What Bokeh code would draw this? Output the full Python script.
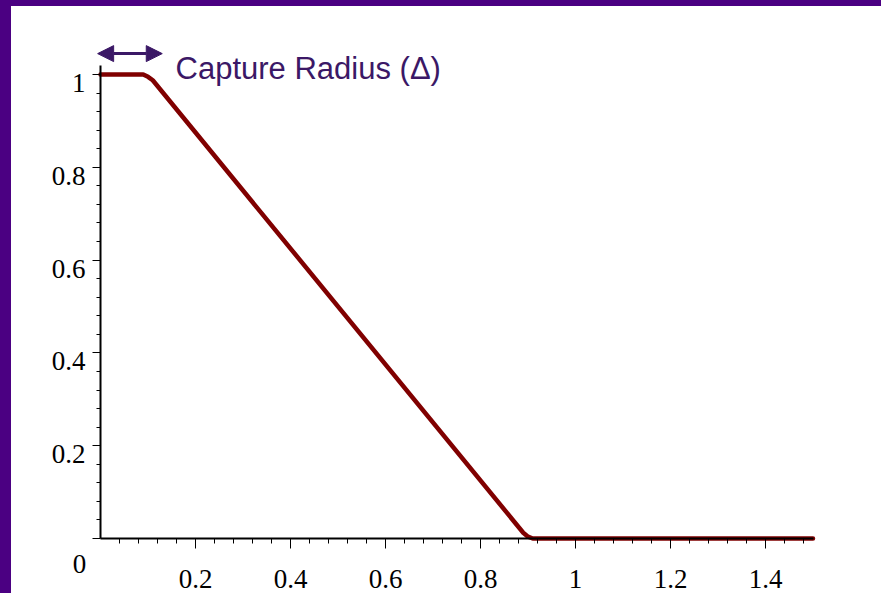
import numpy as np
from bokeh.plotting import figure
from bokeh.models import (LinearAxis, FixedTicker, Arrow, NormalHead,
                          CustomJSTickFormatter, GlobalInlineStyleSheet, Label)
from bokeh.core.properties import value
from bokeh.embed import file_html
from bokeh.resources import INLINE

# ---- data ----
curve_x = [0.0, 0.09, 0.10, 0.11, 0.89, 0.90, 0.91, 1.5]
curve_y = [1.0, 1.0, 0.995, 0.9875, 0.0125, 0.004, 0.0, 0.0]

x_tick_values = [0.2, 0.4, 0.6, 0.8, 1.0, 1.2, 1.4]
x_tick_labels = ["0.2", "0.4", "0.6", "0.8", "1", "1.2", "1.4"]
y_tick_values = [0.2, 0.4, 0.6, 0.8, 1.0]
y_tick_labels = ["0.2", "0.4", "0.6", "0.8", "1"]
origin_label = ["0"]

x_minor = [round(v, 2) for v in np.arange(0.04, 1.4801, 0.04)]
y_minor = [round(v, 2) for v in np.arange(0.04, 1.0001, 0.04)]

arrow_x = [-0.006, 0.13]
arrow_y = [1.045, 1.045]
annot_text = "Capture Radius (\u0394)"
annot_pos = (0.158, 1.013)

# ---- figure ----
W, H = 881, 593
x0px, y0px = 100, 538
xs, ys = 475.0, 464.0

p = figure(width=W, height=H, output_backend="svg", toolbar_location=None,
           x_range=(-x0px / xs, (W - x0px) / xs),
           y_range=(-(H - y0px) / ys, y0px / ys),
           x_axis_location=None, y_axis_location=None,
           min_border=0, min_border_left=0, min_border_right=0,
           min_border_top=0, min_border_bottom=0)
p.outline_line_color = None
p.background_fill_color = None
p.border_fill_color = None
p.xgrid.visible = False
p.ygrid.visible = False

p.stylesheets = [GlobalInlineStyleSheet(css="""
body {
  background:
    linear-gradient(#4b0082, #4b0082) left top / 11px 100% no-repeat,
    linear-gradient(#4b0082, #4b0082) left top / 100% 6px no-repeat,
    #ffffff;
}
""")]

empty_fmt = CustomJSTickFormatter(code="return ''")

xaxis = LinearAxis(fixed_location=0,
                   ticker=FixedTicker(ticks=x_tick_values, minor_ticks=x_minor),
                   formatter=empty_fmt, bounds=(0, 1.5))
xaxis.axis_line_color = "black"
xaxis.axis_line_width = 2
xaxis.major_tick_out = 10
xaxis.major_tick_in = 0
xaxis.minor_tick_out = 5
xaxis.minor_tick_in = 0
xaxis.major_tick_line_color = "black"
xaxis.minor_tick_line_color = "black"
xaxis.major_tick_line_width = 1
xaxis.minor_tick_line_width = 1
p.add_layout(xaxis, "below")

yaxis = LinearAxis(fixed_location=0,
                   ticker=FixedTicker(ticks=[0.0] + y_tick_values, minor_ticks=y_minor),
                   formatter=empty_fmt, bounds=(0, 1.02))
yaxis.axis_line_color = "black"
yaxis.axis_line_width = 2
yaxis.major_tick_out = 8
yaxis.major_tick_in = 0
yaxis.minor_tick_out = 4
yaxis.minor_tick_in = 0
yaxis.major_tick_line_color = "black"
yaxis.minor_tick_line_color = "black"
yaxis.major_tick_line_width = 1
yaxis.minor_tick_line_width = 1
p.add_layout(yaxis, "left")

# curve
p.line(curve_x, curve_y, line_color="#800000", line_width=4.5, line_join="round", line_cap="round")

# tick labels
font = value("Liberation Serif")
p.text(x=x_tick_values, y=[0.0] * len(x_tick_values), text=x_tick_labels,
       text_font=font, text_font_size="27px", text_color="black",
       text_align="center", text_baseline="middle", y_offset=40)
p.text(x=[0.0] * len(y_tick_values), y=y_tick_values, text=y_tick_labels,
       text_font=font, text_font_size="27px", text_color="black",
       text_align="right", text_baseline="middle", x_offset=-15, y_offset=8.5)
p.text(x=[0.0], y=[0.0], text=origin_label,
       text_font=font, text_font_size="27px", text_color="black",
       text_align="center", text_baseline="middle", x_offset=-21, y_offset=25)

# annotation arrow + text
purple = "#3b1866"
p.add_layout(Arrow(x_start=arrow_x[0], y_start=arrow_y[0], x_end=arrow_x[1], y_end=arrow_y[1],
                   line_color=purple, line_width=3,
                   start=NormalHead(size=16, fill_color=purple, line_color=purple),
                   end=NormalHead(size=16, fill_color=purple, line_color=purple)))
p.add_layout(Label(x=annot_pos[0], y=annot_pos[1], text=annot_text,
                   text_font="Liberation Sans", text_font_size="31px",
                   text_color=purple, text_baseline="alphabetic", text_align="left"))

open("out.html", "w").write(file_html(p, INLINE))
